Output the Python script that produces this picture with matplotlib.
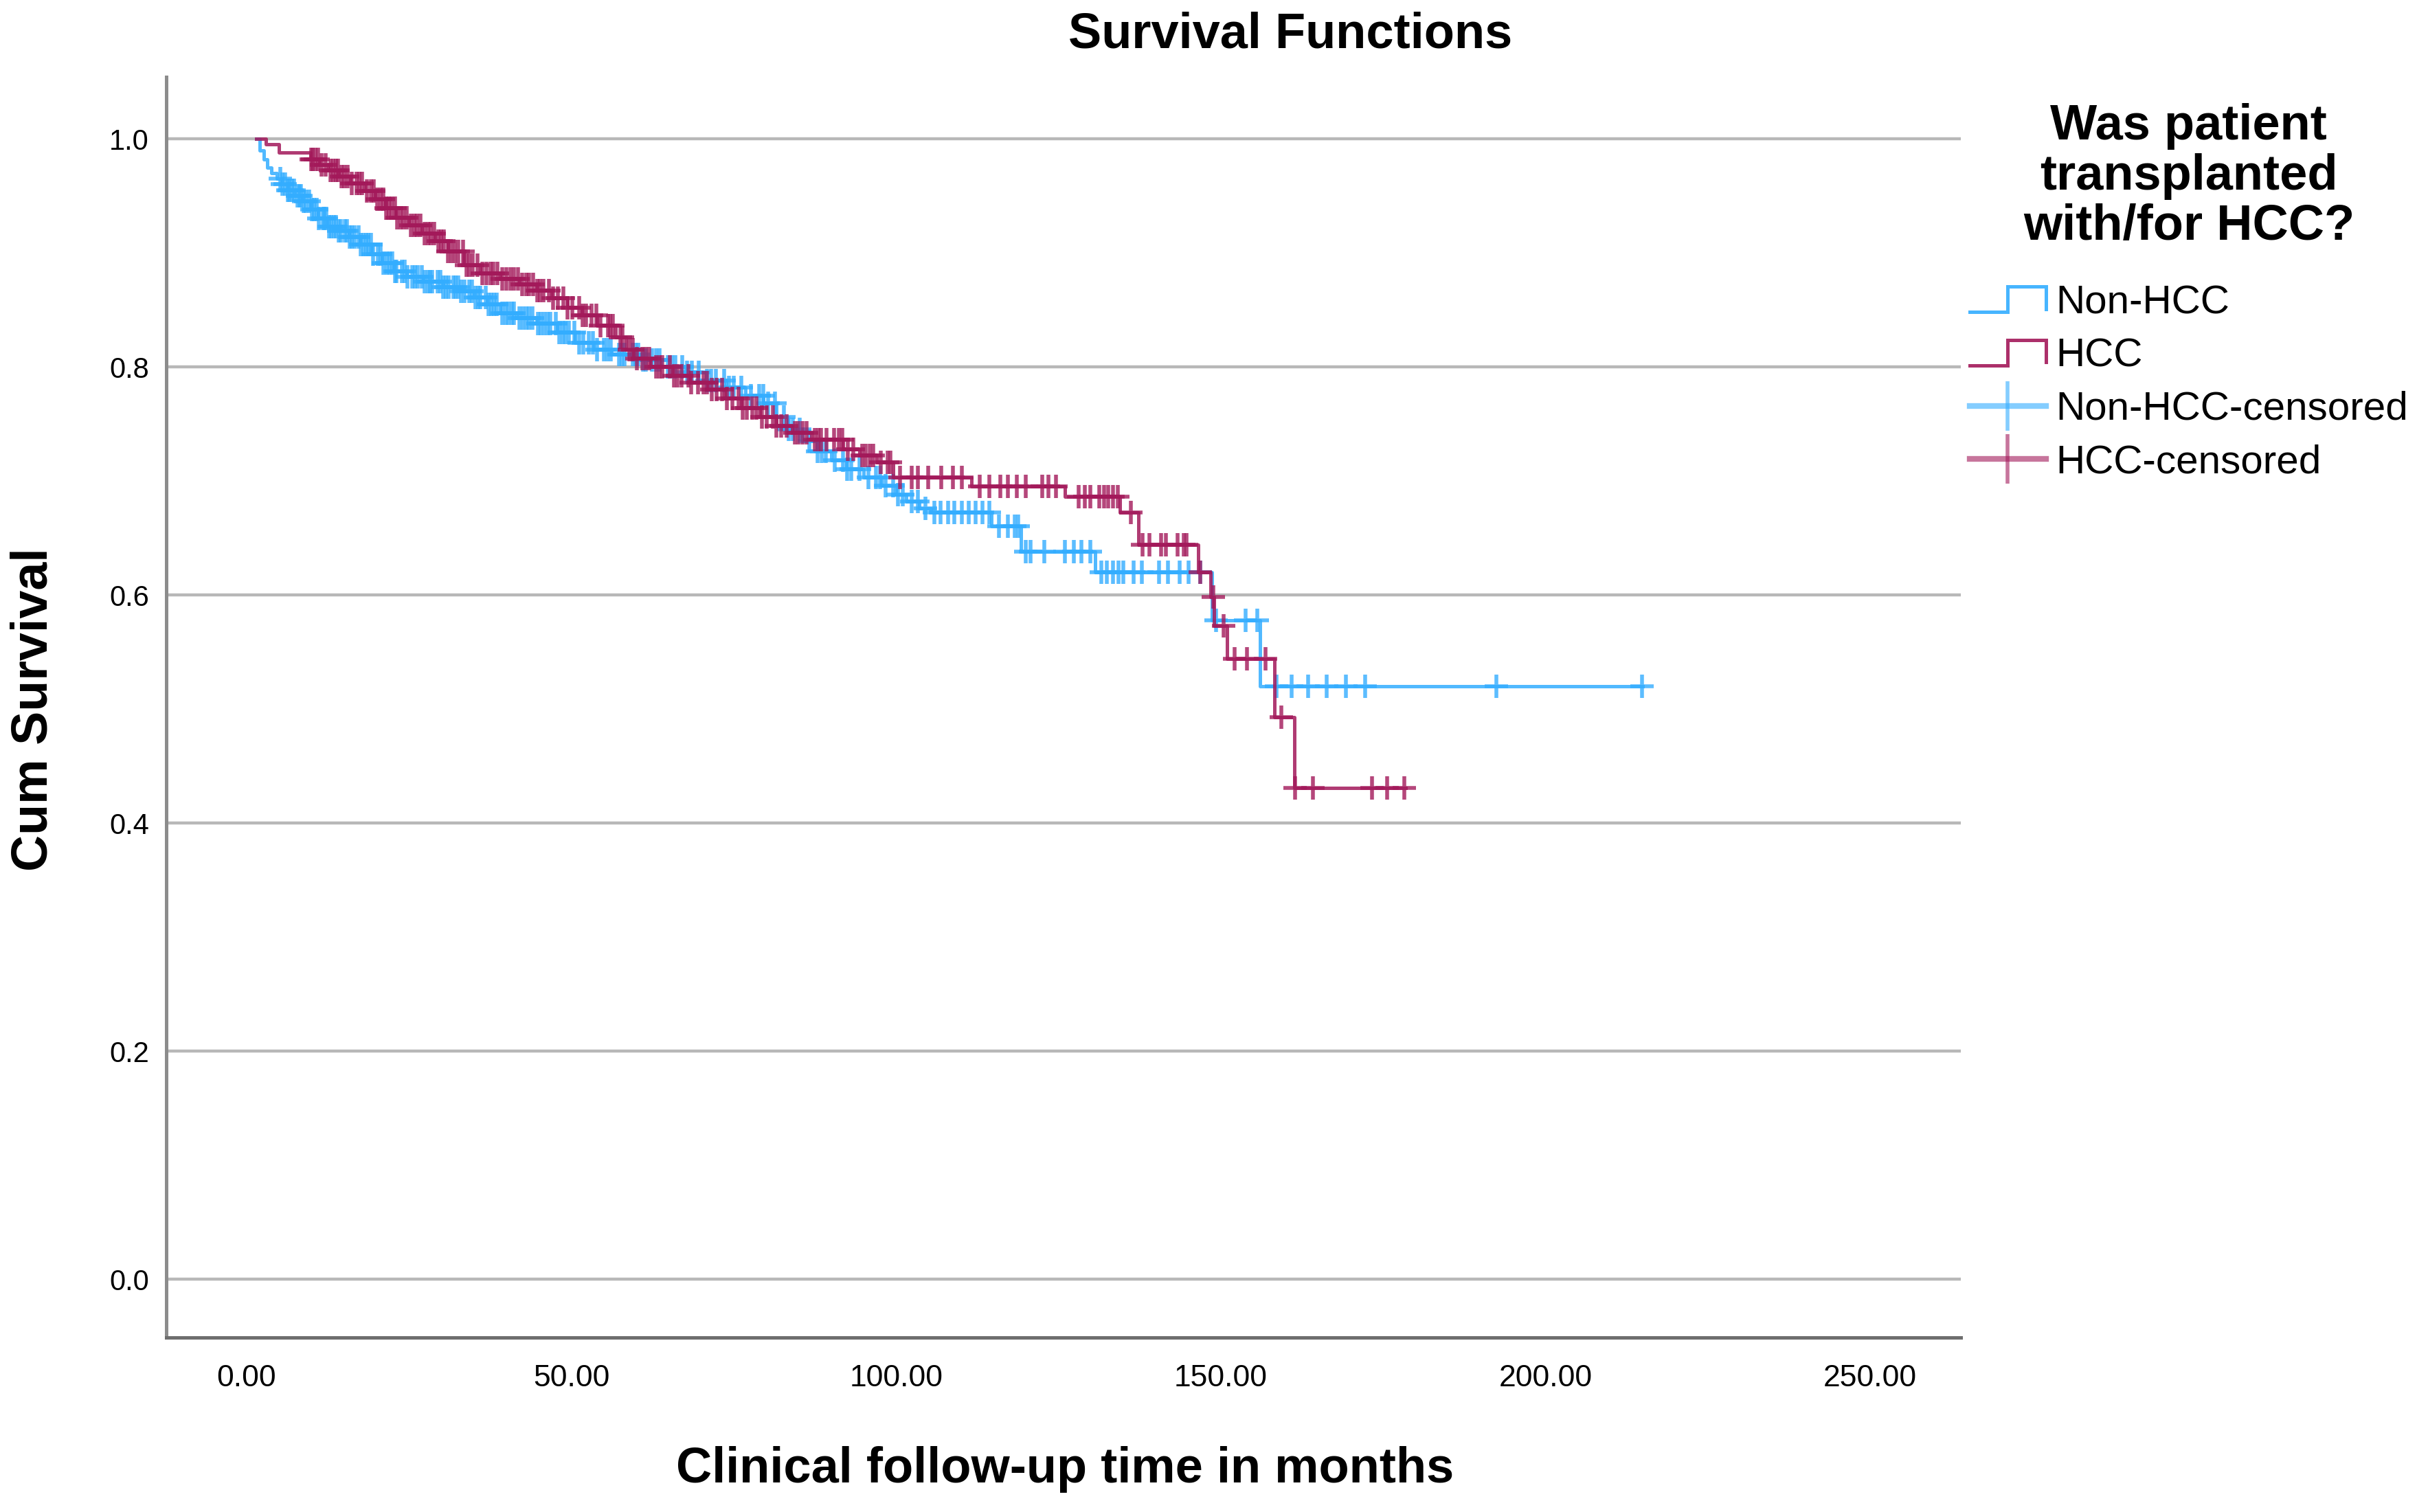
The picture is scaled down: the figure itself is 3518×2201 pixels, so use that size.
import numpy as np
import matplotlib
matplotlib.use("Agg")
import matplotlib.pyplot as plt
from matplotlib.lines import Line2D
from matplotlib.legend_handler import HandlerBase

# Kaplan-Meier step points (time in months, cumulative survival)
nonhcc_t = [1.5, 2.0, 2.6, 3.2, 3.8, 4.6, 5.4, 6.3, 7.4, 8.6, 9.8, 11.0, 12.4, 14.0, 15.8,
            17.4, 19.2, 20.8, 22.6, 24.6, 27.2, 30.2, 32.8, 35.0, 37.0, 39.0, 41.6, 44.6, 47.8,
            50.6, 53.4, 56.2, 60.8, 63.8, 67.6, 70.8, 73.8, 76.8, 79.6, 81.6, 83.4, 85.6, 87.8,
            90.0, 92.4, 95.0, 97.8, 100.0, 101.6, 103.6, 105.4, 114.7, 119.2, 130.6, 148.6,
            156.0, 215.0]
nonhcc_s = [1.0, 0.99, 0.982, 0.975, 0.970, 0.965, 0.960, 0.955, 0.950, 0.945, 0.938, 0.930,
            0.923, 0.919, 0.914, 0.907, 0.899, 0.891, 0.884, 0.879, 0.875, 0.870, 0.866, 0.861,
            0.855, 0.847, 0.843, 0.838, 0.830, 0.821, 0.815, 0.811, 0.806, 0.800, 0.795, 0.788,
            0.782, 0.775, 0.768, 0.756, 0.745, 0.735, 0.726, 0.718, 0.710, 0.703, 0.696, 0.688,
            0.682, 0.676, 0.672, 0.660, 0.638, 0.620, 0.578, 0.520, 0.520]

hcc_t = [1.5, 3.0, 5.0, 9.8, 11.2, 12.6, 14.2, 16.0, 18.2, 19.8, 21.4, 23.0, 25.0, 27.0, 29.0,
         31.0, 33.4, 36.0, 39.0, 42.0, 44.6, 47.0, 49.4, 51.6, 54.0, 56.8, 58.4, 59.6, 62.2,
         65.6, 68.2, 71.0, 73.6, 76.2, 79.0, 81.6, 84.0, 87.0, 91.8, 94.4, 97.0, 99.6, 111.6,
         126.0, 134.5, 137.3, 146.5, 148.4, 149.0, 151.0, 158.3, 161.3, 178.5]
hcc_s = [1.0, 0.995, 0.988, 0.982, 0.977, 0.972, 0.967, 0.961, 0.954, 0.947, 0.939, 0.931,
         0.924, 0.917, 0.910, 0.901, 0.889, 0.882, 0.877, 0.872, 0.867, 0.860, 0.852, 0.845,
         0.836, 0.826, 0.815, 0.807, 0.800, 0.792, 0.786, 0.780, 0.772, 0.764, 0.756, 0.748,
         0.742, 0.736, 0.728, 0.722, 0.716, 0.703, 0.695, 0.686, 0.672, 0.644, 0.620, 0.598,
         0.573, 0.544, 0.493, 0.431, 0.431]

# censored observations (months)
nonhcc_cens = [5.2, 5.5, 5.9, 6.3, 6.6, 7.0, 7.3, 7.8, 8.1, 8.4, 8.8, 9.1, 9.6, 10.0, 10.4,
               10.8, 11.1, 11.7, 12.0, 12.3, 12.7, 13.0, 13.4, 13.8, 14.2, 14.5, 15.1, 15.4,
               15.9, 16.2, 16.6, 17.2, 17.6, 18.0, 18.4, 18.7, 19.1, 19.5, 20.2, 20.6, 21.0,
               21.6, 22.0, 22.4, 22.8, 23.1, 23.9, 24.3, 24.8, 25.5, 25.9, 26.3, 27.0, 27.4,
               27.9, 28.2, 28.6, 29.4, 29.8, 30.3, 30.7, 31.1, 31.8, 32.2, 32.6, 33.0, 33.5,
               34.3, 34.7, 35.2, 35.6, 36.0, 36.8, 37.2, 37.7, 38.1, 38.5, 39.4, 39.9, 40.3,
               40.8, 41.2, 42.0, 42.5, 43.1, 43.5, 44.0, 44.9, 45.3, 45.8, 46.3, 46.8, 47.6,
               48.1, 48.7, 49.1, 49.6, 50.5, 51.2, 51.8, 52.7, 53.3, 53.9, 55.0, 55.5, 56.1,
               57.3, 57.8, 58.2, 59.4, 59.9, 60.3, 61.0, 61.5, 62.4, 63.0, 63.6, 64.8, 65.5,
               66.0, 67.1, 67.8, 68.5, 69.6, 70.9, 71.5, 72.3, 73.5, 74.3, 75.0, 76.2, 77.6,
               78.9, 79.5, 80.3, 81.4, 82.7, 83.5, 84.1, 85.2, 86.6, 87.9, 88.5, 89.2, 90.6,
               91.8, 92.5, 93.1, 94.4, 95.7, 96.9, 97.5, 98.4, 99.5, 100.3, 101.0, 102.4, 103.4,
               104.5, 105.9, 106.9, 108.0, 109.0, 110.1, 111.2, 112.2, 113.3, 114.4, 115.8,
               117.2, 118.3, 118.8, 120.0, 120.7, 122.8, 126.0, 127.4, 128.5, 129.9, 131.6,
               132.4, 133.4, 134.2, 135.0, 136.6, 137.8, 140.5, 141.9, 143.7, 145.0, 146.8,
               149.3, 153.8, 155.6, 158.6, 160.9, 163.5, 166.3, 169.3, 172.2, 192.4, 214.9]
hcc_cens = [9.9, 10.2, 10.6, 11.0, 11.5, 12.2, 12.9, 13.3, 13.8, 14.1, 14.6, 15.0, 15.5, 16.2,
            16.9, 17.3, 17.8, 18.5, 19.1, 19.6, 20.1, 20.6, 21.0, 21.5, 21.9, 22.3, 22.8, 23.2,
            23.7, 24.1, 24.6, 25.3, 25.8, 26.2, 26.8, 27.4, 27.9, 28.3, 28.9, 29.5, 29.9, 30.4,
            31.0, 31.5, 32.1, 32.6, 33.3, 33.9, 34.3, 34.8, 35.5, 36.3, 36.9, 37.5, 38.0, 38.6,
            39.3, 40.0, 40.6, 41.2, 41.8, 42.4, 43.0, 43.5, 44.1, 44.7, 45.2, 45.7, 46.5, 47.2,
            47.9, 48.8, 49.4, 50.1, 51.2, 51.7, 52.3, 53.1, 53.8, 54.5, 55.6, 56.0, 56.4, 57.5,
            57.9, 58.9, 59.5, 60.1, 60.9, 61.5, 62.0, 63.1, 63.6, 64.0, 65.2, 65.8, 66.3, 67.0,
            68.0, 68.4, 69.5, 70.3, 70.9, 71.6, 72.4, 73.2, 73.9, 74.8, 75.7, 76.4, 77.0, 77.9,
            78.5, 79.3, 80.1, 81.0, 81.6, 82.3, 83.2, 84.4, 84.9, 85.6, 86.2, 87.5, 88.0, 88.4,
            89.3, 90.4, 91.2, 91.7, 92.6, 93.4, 94.8, 95.3, 95.9, 96.5, 97.6, 98.7, 99.1,
            100.6, 102.4, 103.4, 104.9, 107.0, 108.7, 110.1, 112.9, 114.4, 116.1, 117.2, 118.6,
            120.0, 122.5, 123.5, 124.6, 128.1, 129.1, 129.9, 131.3, 132.0, 132.7, 133.4, 134.1,
            136.2, 138.0, 139.0, 140.8, 141.5, 143.3, 144.3, 144.7, 146.8, 148.9, 150.4, 152.1,
            154.0, 156.9, 159.3, 161.4, 164.2, 173.3, 175.6, 178.3]

x_ticks = [0, 50, 100, 150, 200, 250]
y_ticks = [0.0, 0.2, 0.4, 0.6, 0.8, 1.0]

BLUE = "#33adff"
RED = "#a3195a"
NARROW = ["Liberation Sans Narrow", "Liberation Sans", "DejaVu Sans"]
SANS = ["Liberation Sans", "DejaVu Sans"]


def surv_at(times, surv, t):
    idx = np.searchsorted(times, t, side="right") - 1
    return np.asarray(surv)[idx]


class StepHandler(HandlerBase):
    """little step glyph like the SPSS legend"""
    def create_artists(self, legend, orig_handle, xdescent, ydescent, width, height,
                       fontsize, trans):
        x0 = -xdescent
        xs = [x0, x0 + width * 0.5, x0 + width * 0.5, x0 + width, x0 + width]
        ys = [height * 0.05, height * 0.05, height * 0.95, height * 0.95, height * 0.15]
        ln = Line2D(xs, ys, color=orig_handle.get_color(), lw=orig_handle.get_linewidth(),
                    alpha=orig_handle.get_alpha(), solid_joinstyle="miter")
        ln.set_transform(trans)
        return [ln]


fig = plt.figure(figsize=(17.59, 11.005), dpi=200)
ax = fig.add_axes([0.0688, 0.1154, 0.7425, 0.8337])

ax.step(nonhcc_t, nonhcc_s, where="post", color=BLUE, lw=1.8, alpha=0.85, zorder=3)
ax.step(hcc_t, hcc_s, where="post", color=RED, lw=1.8, alpha=0.85, zorder=4)
ax.plot(nonhcc_cens, surv_at(nonhcc_t, nonhcc_s, nonhcc_cens), ls="none", marker="+",
        ms=12, mew=2.0, color=BLUE, alpha=0.8, zorder=3)
ax.plot(hcc_cens, surv_at(hcc_t, hcc_s, hcc_cens), ls="none", marker="+",
        ms=12, mew=2.0, color=RED, alpha=0.8, zorder=4)

ax.set_xlim(-12.38, 263.97)
ax.set_ylim(-0.0512, 1.0542)
ax.set_xticks(x_ticks)
ax.set_xticklabels(["%.2f" % v for v in x_ticks], family=NARROW, fontsize=16)
ax.set_yticks(y_ticks)
ax.set_yticklabels(["%.1f" % v for v in y_ticks], family=SANS, fontsize=15)
ax.tick_params(axis="both", length=0)
ax.tick_params(axis="x", pad=14)
ax.tick_params(axis="y", pad=9)
ax.yaxis.grid(True, color="#b8b8b8", lw=1.6)
ax.set_axisbelow(True)
for s in ["top", "right"]:
    ax.spines[s].set_visible(False)
ax.spines["left"].set_color("#8c8c8c")
ax.spines["left"].set_linewidth(1.8)
ax.spines["bottom"].set_color("#6e6e6e")
ax.spines["bottom"].set_linewidth(1.8)

fig.text(0.534, 0.977, "Survival Functions", ha="center", va="center",
         family=NARROW, fontsize=26, weight="bold")
fig.text(0.4406, 0.028, "Clinical follow-up time in months", ha="center", va="center",
         family=NARROW, fontsize=26, weight="bold")
fig.text(0.014, 0.531, "Cum Survival", ha="center", va="center", rotation=90,
         family=SANS, fontsize=26.5, weight="bold")

h_non = Line2D([], [], color=BLUE, lw=1.8, alpha=0.9)
h_hcc = Line2D([], [], color=RED, lw=1.8, alpha=0.9)
h_non_c = Line2D([], [], color=BLUE, lw=3, alpha=0.6, marker="|", ms=26, mew=2)
h_hcc_c = Line2D([], [], color=RED, lw=3, alpha=0.6, marker="|", ms=26, mew=2)
leg = fig.legend([h_non, h_hcc, h_non_c, h_hcc_c],
                 ["Non-HCC", "HCC", "Non-HCC-censored", "HCC-censored"],
                 handler_map={h_non: StepHandler(), h_hcc: StepHandler()},
                 loc="upper left", bbox_to_anchor=(0.8149, 0.932), frameon=False,
                 title="Was patient\ntransplanted\nwith/for HCC?",
                 prop={"family": SANS, "size": 21},
                 title_fontproperties={"family": SANS, "size": 26, "weight": "bold"},
                 handlelength=1.9, handletextpad=0.25, labelspacing=0.4,
                 borderpad=0, borderaxespad=0)
leg.get_title().set_multialignment("center")
leg.get_title().set_linespacing(1.1)
leg._legend_box.sep = 18

fig.savefig("out.png", dpi=200)
